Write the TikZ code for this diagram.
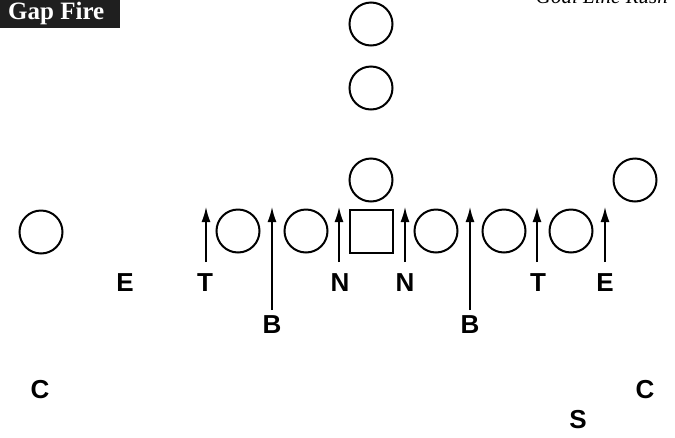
\documentclass[tikz,border=0pt]{standalone}
\usepackage{fontspec}
\setmainfont{Liberation Serif}
\newfontfamily\lblfont{Liberation Sans}
\usetikzlibrary{arrows.meta}
\begin{document}
\begin{tikzpicture}[x=1pt,y=-1pt,
  player/.style={circle,draw,line width=2pt,minimum size=43pt,inner sep=0pt},
  center/.style={rectangle,draw,line width=2pt,minimum size=43pt,inner sep=0pt},
  lbl/.style={font=\lblfont\bfseries\fontsize{26}{26}\selectfont,inner sep=0pt},
  rush/.style={line width=1.5pt,-{Latex[length=15pt,width=9pt]}}]
\useasboundingbox (0,0) rectangle (675,437);
% title
\fill[black!88] (0,-10) rectangle (120,28);
\node[anchor=base west,text=white,inner sep=0pt,font=\bfseries\fontsize{25}{25}\selectfont] (title) at (8,19) {Gap Fire};
\node[anchor=base east,inner sep=0pt,font=\itshape\fontsize{21}{21}\selectfont] (sub) at (668,3) {Goal Line Rush};
% offense
\node[player] (q1) at (371,24) {};
\node[player] (q2) at (371,88) {};
\node[player] (q3) at (371,180) {};
\node[player] (wr) at (635,180) {};
\node[player] (wl) at (41,232) {};
\node[player] (lt) at (238,231) {};
\node[player] (lg) at (306,231) {};
\node[center] (c) at (371,231) {};
\node[player] (rg) at (436,231) {};
\node[player] (rt) at (504,231) {};
\node[player] (te) at (571,231) {};
% defense labels
\node[lbl] (e1) at (125,283) {E};
\node[lbl] (t1) at (205,283) {T};
\node[lbl] (n1) at (340,283) {N};
\node[lbl] (n2) at (405,283) {N};
\node[lbl] (t2) at (538,283) {T};
\node[lbl] (e2) at (605,283) {E};
\node[lbl] (b1) at (272,325) {B};
\node[lbl] (b2) at (470,325) {B};
\node[lbl] (c1) at (40,390) {C};
\node[lbl] (c2) at (645,390) {C};
\node[lbl] (s1) at (578,420) {S};
% arrow ends
\foreach \n/\x in {a1/206,a3/339,a4/405,a6/537,a8/605}{
  \coordinate (\n s) at (\x,262);
  \coordinate (\n e) at (\x,207);
}
\foreach \n/\x in {a2/272,a7/470}{
  \coordinate (\n s) at (\x,310);
  \coordinate (\n e) at (\x,207);
}
\foreach \n in {a1,a2,a3,a4,a6,a7,a8}{
  \draw[rush] (\n s) -- (\n e);
}
\end{tikzpicture}
\end{document}
